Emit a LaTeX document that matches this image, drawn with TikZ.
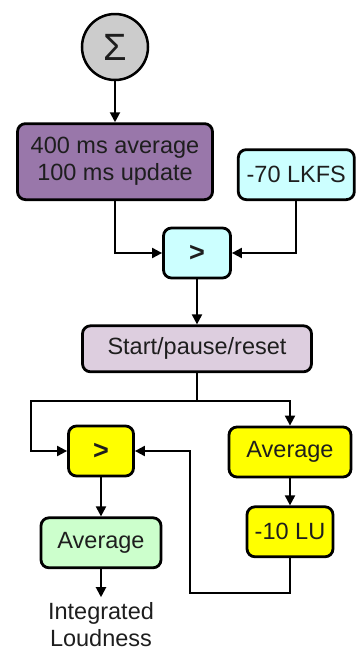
\documentclass[tikz,border=0pt]{standalone}
\usepackage{fontspec}
\setmainfont{Liberation Sans}
\usepackage{tikz}
\usetikzlibrary{arrows.meta, positioning, calc}
\definecolor{sumgray}{RGB}{204,204,204}
\definecolor{winpurple}{RGB}{153,119,170}
\definecolor{gatelilac}{RGB}{221,206,223}
\definecolor{thrcyan}{RGB}{204,255,255}
\definecolor{relyellow}{RGB}{255,255,0}
\definecolor{outgreen}{RGB}{204,255,204}
\definecolor{txt}{RGB}{30,30,30}

\begin{document}
\begin{tikzpicture}[x=1pt,y=1pt,->,>={Triangle[length=10pt,width=10pt]},
                line width=2pt,
                box/.style={draw=black,line width=2.8pt,rounded corners=8pt,
                    text=txt,font=\fontsize{23.5}{27}\selectfont,align=center,
                    inner sep=0pt,minimum height=50pt},
                sumnode/.style={circle,draw=black,line width=2.5pt,fill=sumgray,
                    minimum size=66pt,inner sep=0pt,text=txt,
                    font=\fontsize{38}{40}\selectfont}]
                \useasboundingbox (0,0) rectangle (361,-651);

                % Define the blocks as nodes
                \node[sumnode] (sum) at (115,-47) {Σ};
                \node[box,fill=winpurple,minimum width=195pt,minimum height=76pt]
                    (avg400) [below=41pt of sum] {400 ms average\\100 ms update};
                \node[box,fill=thrcyan,minimum width=116pt]
                    (lkfs) [right=23pt of avg400.south east,anchor=south west] {-70 LKFS};
                \node[box,fill=thrcyan,minimum width=67pt] (cmp1) at (197,-253)
                    {\fontsize{27}{27}\bfseries >};
                \node[box,fill=gatelilac,minimum width=229pt,minimum height=46pt]
                    (gate) [below=45pt of cmp1] {Start/pause/reset};
                \node[box,fill=relyellow,minimum width=65pt] (cmp2) at (101,-451)
                    {\fontsize{27}{27}\bfseries >};
                \node[box,fill=relyellow,minimum width=122pt] (avgY) at (290,-452) {Average};
                \node[box,fill=relyellow,minimum width=86pt]
                    (rel) [below=27pt of avgY] {-10 LU};
                \node[box,fill=outgreen,minimum width=120pt]
                    (avgG) [below=39pt of cmp2] {Average};
                \node[text=txt,align=center,inner xsep=1pt,inner ysep=4pt,
                    font=\fontsize{23.5}{27}\selectfont]
                    (out) [below=28pt of avgG] {Integrated\\Loudness};

                % Helper points for the bends
                \coordinate (split) at ($(gate.south)+(0,-28)$);
                \coordinate (bendL) at ($(cmp2.west)+(-36,0)$);
                \coordinate (bendR) at ($(cmp2.east)+(55,0)$);

                % Connect the blocks with arrows
                \draw (sum) -- (avg400);
                \draw (avg400.south) |- (cmp1.west);
                \draw (lkfs.south) |- (cmp1.east);
                \draw (cmp1) -- (gate);

                \draw[-] (gate.south) -- (split);
                \draw (split) -| (bendL) -- (cmp2.west);
                \draw (split) -| (avgY.north);

                \draw (avgY) -- (rel);
                \draw (rel.south) -- ++(0,-35) -| (bendR) -- (cmp2.east);

                \draw (cmp2) -- (avgG);
                \draw (avgG) -- (out);

\end{tikzpicture}
\end{document}
